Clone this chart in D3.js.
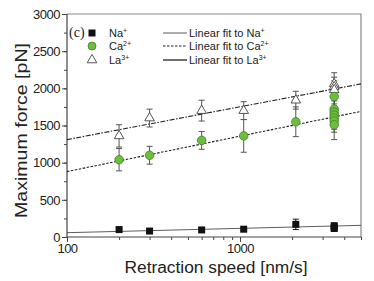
<!DOCTYPE html>
<html><head><meta charset="utf-8">
<script src="https://cdn.jsdelivr.net/npm/d3@7"></script>
<style>body{margin:0;background:#fff}svg{display:block;font-family:"Liberation Sans",Arial,sans-serif}</style>
</head><body>
<svg id="c" width="374" height="281"></svg>
<script>
// ---- data ----
const naSpeed = [200, 300, 600, 1050, 2100, 3500, 3500, 3500];
const naForce = [100, 80, 95, 105, 170, 130, 115, 150];
const naErr   = [30, 20, 25, 20, 70, 50, 40, 40];

const caSpeed = [200, 300, 600, 1050, 2100, 3500, 3500, 3500, 3500, 3500, 3500, 3500];
const caForce = [1040, 1100, 1300, 1360, 1550, 1890, 1720, 1680, 1640, 1600, 1560, 1510];
const caErr   = [150, 120, 120, 220, 200, 150, 150, 150, 150, 150, 150, 200];

const laSpeed = [200, 300, 600, 1050, 2100, 3500, 3500, 3500];
const laForce = [1360, 1600, 1700, 1700, 1840, 2060, 2020, 1980];
const laErr   = [150, 120, 140, 120, 120, 150, 130, 120];

const fitSpeed = [100, 5000];
const naFit = [58, 157];
const caFit = [880, 1690];
const laFit = [1310, 2060];

const yTicks = [0, 500, 1000, 1500, 2000, 2500, 3000];
const xTicks = [100, 1000];

// ---- layout ----
const svg = d3.select("#c");
const L = 67, R = 361, T = 14, B = 237;
const x = d3.scaleLog().domain([100, 5000]).range([L, R]);
const y = d3.scaleLinear().domain([0, 3000]).range([B, T]);

// frame (top/right)
svg.append("path").attr("d", `M${L},${T}H${R}V${B}`).attr("fill", "none").attr("stroke", "#888").attr("stroke-width", 1.2);

// axes
const minorY = d3.range(0, 3001, 250);
svg.append("g").attr("transform", `translate(${L},0)`)
  .call(d3.axisLeft(y).tickValues(minorY).tickSize(3).tickFormat(""))
  .call(g => g.select(".domain").remove())
  .selectAll("line").attr("stroke", "#444");
const yAx = svg.append("g").attr("transform", `translate(${L},0)`)
  .call(d3.axisLeft(y).tickValues(yTicks).tickSize(5).tickPadding(2).tickFormat(d3.format("d")));
yAx.select(".domain").attr("stroke", "#444").attr("stroke-width", 1.2).attr("d", `M0,${T}V${B}`);
yAx.selectAll("text").attr("font-size", 13).attr("fill", "#222").attr("font-family", "Liberation Sans, Arial").attr("letter-spacing", -0.5);
yAx.selectAll("line").attr("stroke", "#444");

const minorX = [200,300,400,500,600,700,800,900,2000,3000,4000,5000];
svg.append("g").attr("transform", `translate(0,${B})`)
  .call(d3.axisBottom(x).tickValues(minorX).tickSize(3).tickFormat(""))
  .call(g => g.select(".domain").remove())
  .selectAll("line").attr("stroke", "#444");
const xAx = svg.append("g").attr("transform", `translate(0,${B})`)
  .call(d3.axisBottom(x).tickValues(xTicks).tickSize(5).tickPadding(2).tickFormat(d3.format("d")));
xAx.select(".domain").attr("stroke", "#444").attr("stroke-width", 1.2).attr("d", `M${L},0H${R}`);
xAx.selectAll("text").attr("font-size", 13).attr("fill", "#222").attr("font-family", "Liberation Sans, Arial").attr("letter-spacing", -0.5);
xAx.selectAll("line").attr("stroke", "#444");

// axis titles
svg.append("text").attr("x", 216).attr("y", 273).attr("text-anchor", "middle")
  .attr("font-size", 16).attr("fill", "#222").attr("textLength", 183).attr("lengthAdjust", "spacingAndGlyphs")
  .text("Retraction speed [nm/s]");
svg.append("text").attr("transform", `translate(27,130.5) rotate(-90)`).attr("text-anchor", "middle")
  .attr("font-size", 17).attr("fill", "#222").attr("textLength", 175).attr("lengthAdjust", "spacingAndGlyphs")
  .text("Maximum force [pN]");

// fit lines
const fl = d3.line().x((d, i) => x(fitSpeed[i])).y(d => y(d));
svg.append("path").datum(naFit).attr("d", fl).attr("fill", "none").attr("stroke", "#333").attr("stroke-width", 0.8);
svg.append("path").datum(caFit).attr("d", fl).attr("fill", "none").attr("stroke", "#222").attr("stroke-width", 1.1).attr("stroke-dasharray", "2.5,1.5");
svg.append("path").datum(laFit).attr("d", fl).attr("fill", "none").attr("stroke", "#222").attr("stroke-width", 1.1).attr("stroke-dasharray", "5,1.5,1.5,1.5");

// error bars
function errBars(sp, f, e, col) {
  const g = svg.append("g").attr("stroke", col).attr("stroke-width", 1);
  sp.forEach((s, i) => {
    const cx = x(s), y1 = y(f[i] - e[i]), y2 = y(f[i] + e[i]);
    g.append("line").attr("x1", cx).attr("x2", cx).attr("y1", y1).attr("y2", y2);
    g.append("line").attr("x1", cx - 3).attr("x2", cx + 3).attr("y1", y1).attr("y2", y1);
    g.append("line").attr("x1", cx - 3).attr("x2", cx + 3).attr("y1", y2).attr("y2", y2);
  });
}
errBars(laSpeed, laForce, laErr, "#555");
errBars(caSpeed, caForce, caErr, "#555");
errBars(naSpeed, naForce, naErr, "#111");

// markers
const tri = d3.symbol().type(d3.symbolTriangle).size(40);
svg.append("g").selectAll("path").data(laSpeed).join("path")
  .attr("transform", (d, i) => `translate(${x(d)},${y(laForce[i])})`)
  .attr("d", tri).attr("fill", "#fff").attr("stroke", "#444").attr("stroke-width", 0.9);
svg.append("g").selectAll("circle").data(caSpeed).join("circle")
  .attr("cx", d => x(d)).attr("cy", (d, i) => y(caForce[i])).attr("r", 4.3)
  .attr("fill", "#6cbf3c").attr("stroke", "#3c7a22").attr("stroke-width", 0.7);
svg.append("g").selectAll("rect").data(naSpeed).join("rect")
  .attr("x", d => x(d) - 3.5).attr("y", (d, i) => y(naForce[i]) - 3.5).attr("width", 7).attr("height", 7)
  .attr("fill", "#111");

// label and legend
svg.append("text").attr("x", 69).attr("y", 37).attr("font-family", "Liberation Serif, Times New Roman, serif")
  .attr("font-size", 14).attr("fill", "#222").text("(c)");

const legNames = [["Na", "+"], ["Ca", "2+"], ["La", "3+"]];
const legY = [33, 46, 60];
const lg = svg.append("g").attr("font-size", 11).attr("fill", "#222");
legNames.forEach((n, i) => {
  const t = lg.append("text").attr("x", 109).attr("y", legY[i] + 4);
  t.append("tspan").text(n[0]);
  t.append("tspan").attr("font-size", 7).attr("dy", -4).text(n[1]);
  const t2 = lg.append("text").attr("x", 189).attr("y", legY[i] + 4);
  t2.append("tspan").text("Linear fit to " + n[0]);
  t2.append("tspan").attr("font-size", 7).attr("dy", -4).text(n[1]);
});
lg.append("rect").attr("x", 88.5).attr("y", legY[0] - 3.5).attr("width", 7).attr("height", 7).attr("fill", "#111");
lg.append("circle").attr("cx", 92).attr("cy", legY[1]).attr("r", 4).attr("fill", "#6cbf3c").attr("stroke", "#3c7a22").attr("stroke-width", 0.7);
lg.append("path").attr("transform", `translate(92,${legY[2]})`).attr("d", tri).attr("fill", "#fff").attr("stroke", "#444").attr("stroke-width", 0.9);
lg.append("line").attr("x1", 163).attr("x2", 187).attr("y1", legY[0]).attr("y2", legY[0]).attr("stroke", "#333").attr("stroke-width", 0.8);
lg.append("line").attr("x1", 163).attr("x2", 187).attr("y1", legY[1]).attr("y2", legY[1]).attr("stroke", "#222").attr("stroke-width", 1.2).attr("stroke-dasharray", "2.5,1.5");
lg.append("line").attr("x1", 163).attr("x2", 187).attr("y1", legY[2]).attr("y2", legY[2]).attr("stroke", "#222").attr("stroke-width", 1.3);
</script>
</body></html>
